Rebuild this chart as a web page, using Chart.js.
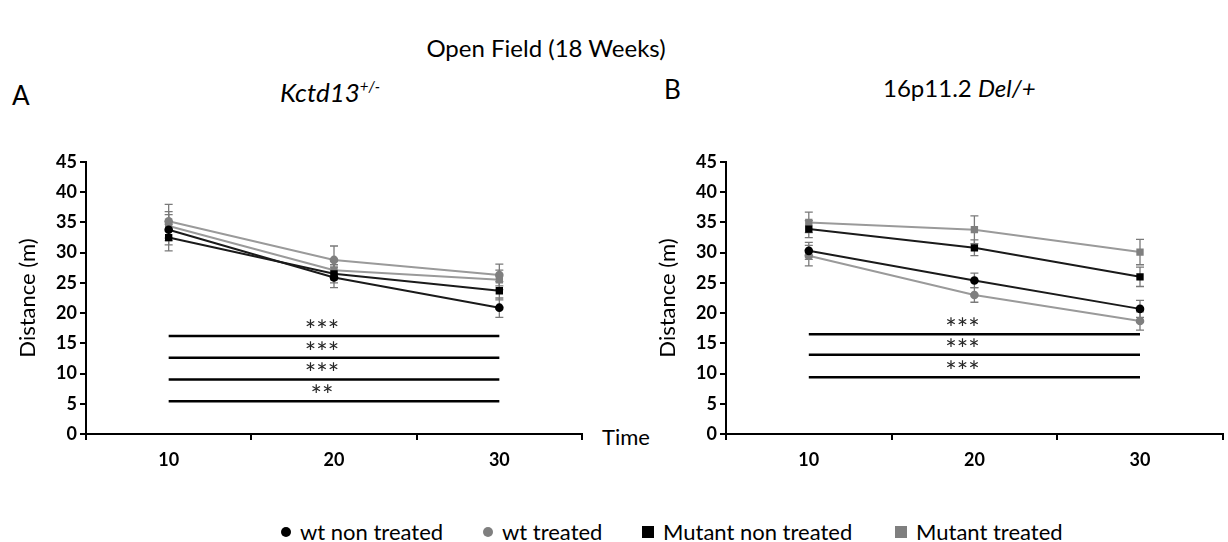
<!DOCTYPE html>
<html>
<head>
<meta charset="utf-8">
<script src="https://cdn.jsdelivr.net/npm/chart.js@4.4.1/dist/chart.umd.min.js"></script>
<style>
  body { margin: 0; width: 1228px; height: 542px; background: #fff; position: relative; overflow: hidden; font-family: Lato, "Open Sans", sans-serif; color: #000; }
  .txt { position: absolute; white-space: nowrap; line-height: 1; }
  canvas { position: absolute; }
  .legend-item { position: absolute; top: 518px; font-size: 22px; display: flex; align-items: center; white-space: nowrap; }
  .mk { display: inline-block; margin-right: 9px; }
  .mk.circle { width: 10px; height: 10px; border-radius: 50%; }
  .mk.square { width: 12px; height: 12px; }
</style>
</head>
<body>
<div class="txt" style="left:546px; top:36px; font-size:24px; transform:translateX(-50%);">Open Field (18 Weeks)</div>
<div class="txt" style="left:12px; top:82px; font-size:26px;">A</div>
<div class="txt" style="left:280px; top:79px; font-size:26px; font-style:italic;">Kctd13<sup style="font-size:15px;">+/-</sup></div>
<div class="txt" style="left:664px; top:76px; font-size:26px;">B</div>
<div class="txt" style="left:883px; top:76px; font-size:24px;">16p11.2 <i>Del/+</i></div>
<div class="txt" style="left:602px; top:426px; font-size:22px;">Time</div>

<canvas id="chartA" width="600" height="340" style="left:0; top:140px;"></canvas>
<canvas id="chartB" width="588" height="340" style="left:640px; top:140px;"></canvas>

<div id="legend"></div>

<script>
// --- Data ---
const timeLabels = ['10', '20', '30'];
const seriesNames = ['wt non treated', 'wt treated', 'Mutant non treated', 'Mutant treated'];

// Panel A: Kctd13 +/-
const wtNonTreatedA = [33.8, 25.9, 20.9];
const wtTreatedA = [35.2, 28.8, 26.3];
const mutNonTreatedA = [32.5, 26.5, 23.7];
const mutTreatedA = [34.4, 27.1, 25.5];
const wtNonTreatedErrA = [2.5, 1.7, 1.6];
const wtTreatedErrA = [2.8, 2.3, 1.8];
const mutNonTreatedErrA = [2.2, 1.5, 1.5];
const mutTreatedErrA = [2.4, 1.6, 1.6];
const sigLevelsA = [16.2, 12.6, 9.0, 5.4];
const sigStarsA = ['***', '***', '***', '**'];

// Panel B: 16p11.2 Del/+
const wtNonTreatedB = [30.3, 25.4, 20.7];
const wtTreatedB = [29.5, 23.0, 18.7];
const mutNonTreatedB = [33.9, 30.8, 26.0];
const mutTreatedB = [35.0, 33.8, 30.1];
const wtNonTreatedErrB = [1.4, 1.2, 1.4];
const wtTreatedErrB = [1.7, 1.2, 1.5];
const mutNonTreatedErrB = [1.4, 1.3, 1.6];
const mutTreatedErrB = [1.7, 2.3, 2.1];
const sigLevelsB = [16.5, 13.1, 9.4];
const sigStarsB = ['***', '***', '***'];

const yTicksMax = 45;
const yTicksStep = 5;

// --- Styles ---
const FONT = 'Lato, "Open Sans", sans-serif';
const BLACK = '#000000';
const GREY = '#7f7f7f';
const seriesStyles = [
    { marker: BLACK, line: '#1a1a1a', shape: 'circle', radius: 4.3 },
    { marker: GREY, line: '#9a9a9a', shape: 'circle', radius: 4.3 },
    { marker: BLACK, line: '#1a1a1a', shape: 'rect', radius: 5.2 },
    { marker: GREY, line: '#9a9a9a', shape: 'rect', radius: 5.2 },
];

// --- Plugins ---
const errorBars = {
    id: 'errorBars',
    beforeDatasetsDraw(chart) {
        const ctx = chart.ctx;
        const yScale = chart.scales.y;
        chart.data.datasets.forEach((ds, i) => {
            if (!ds.errors) return;
            const meta = chart.getDatasetMeta(i);
            ctx.save();
            ctx.strokeStyle = ds.errorColor || '#808080';
            ctx.lineWidth = 1.3;
            meta.data.forEach((pt, j) => {
                const v = ds.data[j];
                const e = ds.errors[j];
                const yTop = yScale.getPixelForValue(v + e);
                const yBot = yScale.getPixelForValue(v - e);
                ctx.beginPath();
                ctx.moveTo(pt.x, yTop); ctx.lineTo(pt.x, yBot);
                ctx.moveTo(pt.x - 4, yTop); ctx.lineTo(pt.x + 4, yTop);
                ctx.moveTo(pt.x - 4, yBot); ctx.lineTo(pt.x + 4, yBot);
                ctx.stroke();
            });
            ctx.restore();
        });
    }
};

const sigStars = {
    id: 'sigStars',
    afterDatasetsDraw(chart, args, opts) {
        if (!opts.levels) return;
        const ctx = chart.ctx;
        const x = chart.scales.x;
        const y = chart.scales.y;
        const mid = (x.getPixelForValue(0) + x.getPixelForValue(timeLabels.length - 1)) / 2 - 12;
        ctx.save();
        ctx.fillStyle = '#262626';
        ctx.font = `27px ${FONT}`;
        ctx.textAlign = 'center';
        ctx.textBaseline = 'middle';
        opts.levels.forEach((lvl, i) => {
            ctx.fillText(opts.labels[i], mid, y.getPixelForValue(lvl) - 5);
        });
        ctx.restore();
    }
};

// --- Chart building ---
function buildDatasets(values, errors, sigLevels) {
    const sets = sigLevels.map(lvl => ({
        data: timeLabels.map(() => lvl),
        borderColor: BLACK,
        borderWidth: 2.5,
        pointRadius: 0,
        pointHoverRadius: 0,
        fill: false,
    }));
    values.forEach((vals, i) => {
        const st = seriesStyles[i];
        sets.push({
            label: seriesNames[i],
            data: vals,
            errors: errors[i],
            errorColor: '#7a7a7a',
            borderColor: st.line,
            borderWidth: 2,
            backgroundColor: st.marker,
            pointBackgroundColor: st.marker,
            pointBorderColor: st.marker,
            pointBorderWidth: 0,
            pointStyle: st.shape,
            pointRadius: st.radius,
            tension: 0,
            fill: false,
        });
    });
    return sets;
}

function makeChart(canvasId, values, errors, sigLevels, stars, padRight) {
    return new Chart(document.getElementById(canvasId), {
        type: 'line',
        data: { labels: timeLabels, datasets: buildDatasets(values, errors, sigLevels) },
        plugins: [errorBars, sigStars],
        options: {
            responsive: false,
            animation: false,
            layout: { padding: { top: 22, right: padRight, bottom: 0, left: 0 } },
            plugins: {
                legend: { display: false },
                tooltip: { enabled: false },
                sigStars: { levels: sigLevels, labels: stars },
            },
            scales: {
                x: {
                    type: 'category',
                    offset: true,
                    grid: { offset: true, drawOnChartArea: false, drawTicks: true, tickLength: 6, color: BLACK, lineWidth: 2 },
                    border: { color: BLACK, width: 2 },
                    ticks: { color: BLACK, padding: 9, maxRotation: 0, font: { family: FONT, size: 18, weight: 'bold' } },
                    afterFit: s => { s.height = 46; },
                },
                y: {
                    min: 0,
                    max: yTicksMax,
                    ticks: { stepSize: yTicksStep, color: BLACK, padding: 3, font: { family: FONT, size: 18, weight: 'bold' } },
                    grid: { drawOnChartArea: false, drawTicks: true, tickLength: 6, color: BLACK, lineWidth: 2 },
                    border: { color: BLACK, width: 2 },
                    title: { display: true, text: 'Distance (m)', color: BLACK, font: { family: FONT, size: 22 }, padding: { top: 15, bottom: 0 } },
                    afterFit: s => { s.width = 86; },
                },
            },
        },
    });
}

makeChart('chartA',
    [wtNonTreatedA, wtTreatedA, mutNonTreatedA, mutTreatedA],
    [wtNonTreatedErrA, wtTreatedErrA, mutNonTreatedErrA, mutTreatedErrA],
    sigLevelsA, sigStarsA, 18);

makeChart('chartB',
    [wtNonTreatedB, wtTreatedB, mutNonTreatedB, mutTreatedB],
    [wtNonTreatedErrB, wtTreatedErrB, mutNonTreatedErrB, mutTreatedErrB],
    sigLevelsB, sigStarsB, 3);

// --- Legend ---
const legendPositions = [281, 483, 642, 895];
const legend = document.getElementById('legend');
seriesNames.forEach((name, i) => {
    const st = seriesStyles[i];
    const item = document.createElement('div');
    item.className = 'legend-item';
    item.style.left = legendPositions[i] + 'px';
    const mk = document.createElement('span');
    mk.className = 'mk ' + (st.shape === 'circle' ? 'circle' : 'square');
    mk.style.background = st.marker;
    item.appendChild(mk);
    item.appendChild(document.createTextNode(name));
    legend.appendChild(item);
});
</script>
</body>
</html>
